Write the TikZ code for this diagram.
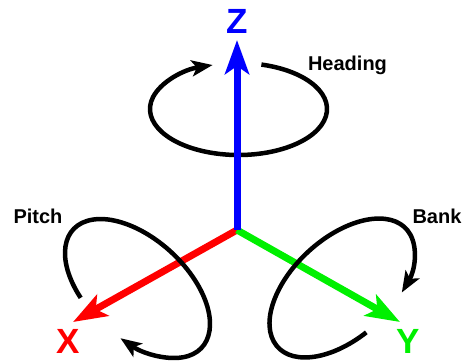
\documentclass[tikz,border=0pt]{standalone}
\usepackage{fontspec}
\setmainfont{Liberation Sans}
\usetikzlibrary{arrows.meta}
\definecolor{axred}{RGB}{255,0,0}
\definecolor{axgreen}{RGB}{0,240,0}
\definecolor{axblue}{RGB}{0,0,255}
\tikzset{
  axis/.style={line width=7pt,-{Stealth[length=34pt,width=24pt,inset=8pt]}},
  ring/.style={line width=4.5pt,-{Stealth[length=21pt,width=16pt,inset=5pt]}},
  axlabel/.style={anchor=base,inner sep=0pt,font=\fontsize{35}{36}\selectfont\bfseries},
  rotlabel/.style={anchor=base,inner sep=0pt,font=\fontsize{20}{22}\selectfont\bfseries}
}

\begin{document}
\begin{tikzpicture}[x=1pt,y=1pt]
\useasboundingbox (0,0) rectangle (468,360);
\coordinate (O) at (237,130);
\coordinate (zTip) at (237,320);
\coordinate (xTip) at (73,38);
\coordinate (yTip) at (400,38);
% axes X and Y
\draw[axis,axred] (O) -- (xTip);
\draw[axis,axgreen] (O) -- (yTip);
% pitch and bank rings
\begin{scope}[shift={(137.5,71.5)},rotate=-42.6]
\draw[ring] (246:87.3 and 49.6) arc[start angle=246,end angle=-76,x radius=87.3,y radius=49.6];
\end{scope}
\begin{scope}[shift={(342,72)},rotate=42.6]
\draw[ring] (262:87.3 and 49.6) arc[start angle=262,end angle=-62,x radius=87.3,y radius=49.6];
\end{scope}
% heading ring
\begin{scope}[shift={(238.5,251)}]
\draw[ring] (75:88.5 and 46) arc[start angle=75,end angle=-253,x radius=88.5,y radius=46];
\end{scope}
\draw[axis,axblue] (O) -- (zTip);
% labels
\node[axlabel,axblue] (zLab) at (237.5,327) {Z};
\node[axlabel,axred] (xLab) at (68.5,7) {X};
\node[axlabel,axgreen] (yLab) at (408,7) {Y};
\node[rotlabel] (heading) at (347.5,290) {Heading};
\node[rotlabel] (pitch) at (38,137) {Pitch};
\node[rotlabel] (bank) at (437,137) {Bank};
\end{tikzpicture}
\end{document}
